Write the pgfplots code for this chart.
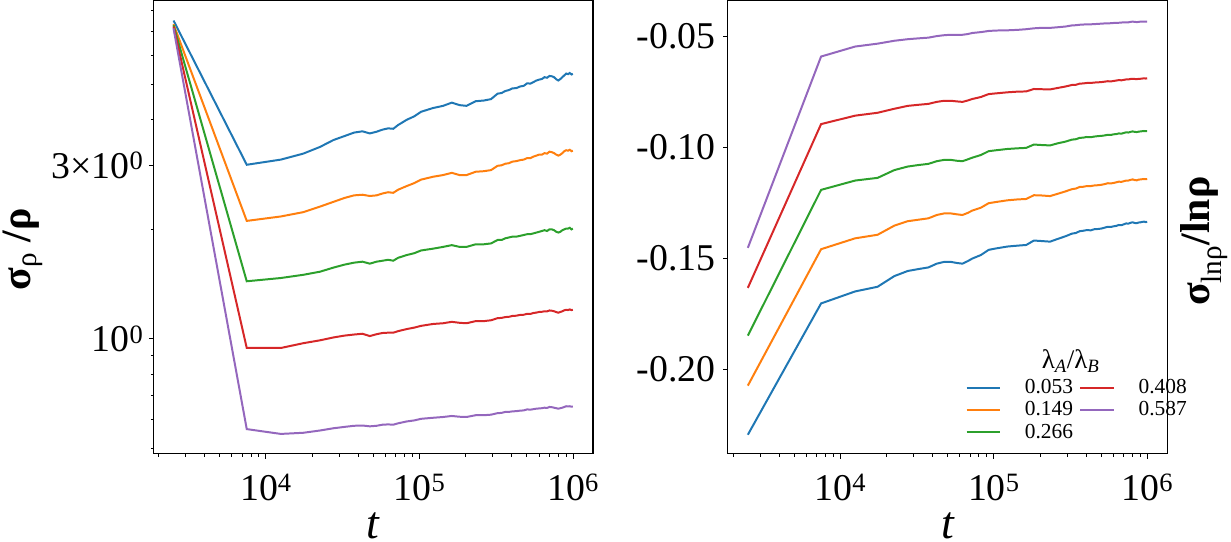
\documentclass[border=0pt]{standalone}
\usepackage{fontspec}
\setmainfont{Liberation Serif}
\usepackage{pgfplots}
\usepackage{pgfplotstable}
\pgfplotsset{compat=1.18}

\definecolor{tabblue}{HTML}{1F77B4}
\definecolor{taborange}{HTML}{FF7F0E}
\definecolor{tabgreen}{HTML}{2CA02C}
\definecolor{tabred}{HTML}{D62728}
\definecolor{tabpurple}{HTML}{9467BD}

% sigma_rho / rho (left panel)
\pgfplotstableread{
t b o g r p
2500 7.50 7.33 7.28 7.22 7.14
7500 3.01 2.11 1.44 0.944 0.565
12500 3.11 2.17 1.47 0.944 0.548
17500 3.23 2.23 1.50 0.973 0.552
22500 3.37 2.31 1.53 0.991 0.560
27500 3.52 2.38 1.57 1.009 0.568
32500 3.61 2.44 1.60 1.021 0.573
37500 3.69 2.48 1.62 1.028 0.577
42500 3.72 2.49 1.63 1.033 0.578
47500 3.67 2.47 1.61 1.018 0.575
52500 3.71 2.48 1.63 1.030 0.577
57500 3.76 2.51 1.64 1.038 0.581
62500 3.79 2.53 1.65 1.040 0.582
67500 3.78 2.52 1.64 1.040 0.581
72500 3.87 2.57 1.67 1.050 0.586
82500 4.00 2.63 1.70 1.064 0.593
92500 4.09 2.68 1.72 1.074 0.597
102500 4.21 2.74 1.75 1.086 0.603
122500 4.31 2.79 1.77 1.099 0.607
142500 4.37 2.82 1.79 1.104 0.610
162500 4.46 2.86 1.81 1.114 0.614
182500 4.39 2.82 1.79 1.107 0.611
202500 4.37 2.82 1.79 1.104 0.610
232500 4.50 2.88 1.82 1.119 0.617
262500 4.52 2.89 1.82 1.119 0.617
292500 4.56 2.91 1.83 1.125 0.619
322500 4.72 2.99 1.87 1.140 0.625
342500 4.74 3.00 1.87 1.142 0.626
362500 4.80 3.03 1.89 1.148 0.630
382500 4.83 3.04 1.90 1.150 0.630
402500 4.88 3.07 1.91 1.156 0.632
427500 4.89 3.08 1.91 1.158 0.633
452500 4.94 3.10 1.92 1.164 0.635
477500 4.96 3.11 1.93 1.165 0.636
502500 5.04 3.14 1.94 1.172 0.640
527500 5.03 3.14 1.94 1.171 0.639
552500 5.08 3.17 1.95 1.178 0.641
577500 5.13 3.19 1.96 1.181 0.643
602500 5.16 3.21 1.97 1.186 0.644
627500 5.18 3.21 1.98 1.187 0.645
652500 5.24 3.24 1.99 1.191 0.647
677500 5.22 3.23 1.98 1.190 0.646
702500 5.28 3.27 2.00 1.197 0.650
727500 5.27 3.26 2.00 1.195 0.649
752500 5.24 3.24 1.99 1.191 0.647
777500 5.17 3.21 1.97 1.185 0.645
802500 5.13 3.19 1.96 1.180 0.643
827500 5.18 3.21 1.97 1.186 0.645
852500 5.24 3.24 1.99 1.191 0.647
877500 5.30 3.28 2.00 1.198 0.650
902500 5.36 3.30 2.01 1.202 0.653
927500 5.34 3.29 2.01 1.200 0.652
952500 5.38 3.31 2.02 1.205 0.653
977500 5.33 3.28 2.00 1.200 0.651
997500 5.35 3.29 2.01 1.202 0.652
}\leftdata

% sigma_lnrho / lnrho (right panel)
\pgfplotstableread{
t b o g r p
2500 -0.2294 -0.2073 -0.1848 -0.1633 -0.1453
7500 -0.1703 -0.1459 -0.1192 -0.0896 -0.0592
12500 -0.1649 -0.1410 -0.1150 -0.0858 -0.0547
17500 -0.1628 -0.1394 -0.1138 -0.0845 -0.0534
22500 -0.1580 -0.1353 -0.1103 -0.0827 -0.0521
27500 -0.1557 -0.1333 -0.1087 -0.0814 -0.0514
32500 -0.1548 -0.1326 -0.1080 -0.0809 -0.0510
37500 -0.1541 -0.1320 -0.1075 -0.0805 -0.0507
42500 -0.1524 -0.1305 -0.1063 -0.0796 -0.0500
47500 -0.1516 -0.1298 -0.1057 -0.0791 -0.0496
52500 -0.1516 -0.1298 -0.1057 -0.0791 -0.0494
57500 -0.1521 -0.1302 -0.1061 -0.0794 -0.0494
62500 -0.1524 -0.1305 -0.1063 -0.0796 -0.0494
67500 -0.1513 -0.1296 -0.1055 -0.0790 -0.0491
72500 -0.1501 -0.1285 -0.1047 -0.0783 -0.0486
82500 -0.1485 -0.1272 -0.1035 -0.0774 -0.0482
92500 -0.1462 -0.1252 -0.1018 -0.0761 -0.0477
102500 -0.1456 -0.1247 -0.1014 -0.0758 -0.0475
122500 -0.1447 -0.1239 -0.1008 -0.0753 -0.0474
142500 -0.1443 -0.1235 -0.1005 -0.0750 -0.0472
162500 -0.1440 -0.1233 -0.1003 -0.0749 -0.0469
182500 -0.1420 -0.1216 -0.0988 -0.0738 -0.0465
202500 -0.1422 -0.1217 -0.0990 -0.0739 -0.0463
232500 -0.1425 -0.1220 -0.0992 -0.0740 -0.0463
262500 -0.1412 -0.1209 -0.0982 -0.0733 -0.0460
292500 -0.1401 -0.1199 -0.0975 -0.0727 -0.0457
322500 -0.1389 -0.1189 -0.0966 -0.0720 -0.0452
342500 -0.1386 -0.1186 -0.0964 -0.0719 -0.0451
362500 -0.1378 -0.1179 -0.0958 -0.0714 -0.0449
382500 -0.1376 -0.1178 -0.0957 -0.0713 -0.0448
402500 -0.1373 -0.1175 -0.0954 -0.0711 -0.0447
427500 -0.1374 -0.1175 -0.0955 -0.0711 -0.0447
452500 -0.1369 -0.1172 -0.0952 -0.0709 -0.0446
477500 -0.1368 -0.1171 -0.0950 -0.0708 -0.0445
502500 -0.1366 -0.1169 -0.0949 -0.0707 -0.0444
527500 -0.1362 -0.1166 -0.0947 -0.0705 -0.0443
552500 -0.1358 -0.1162 -0.0944 -0.0703 -0.0443
577500 -0.1359 -0.1163 -0.0945 -0.0704 -0.0442
602500 -0.1356 -0.1161 -0.0942 -0.0702 -0.0441
627500 -0.1354 -0.1158 -0.0941 -0.0700 -0.0441
652500 -0.1350 -0.1155 -0.0938 -0.0698 -0.0440
677500 -0.1351 -0.1156 -0.0939 -0.0699 -0.0439
702500 -0.1347 -0.1153 -0.0936 -0.0697 -0.0438
727500 -0.1343 -0.1150 -0.0933 -0.0695 -0.0438
752500 -0.1344 -0.1150 -0.0934 -0.0695 -0.0438
777500 -0.1340 -0.1147 -0.0931 -0.0693 -0.0436
802500 -0.1338 -0.1145 -0.0929 -0.0692 -0.0435
827500 -0.1341 -0.1148 -0.0931 -0.0693 -0.0436
852500 -0.1342 -0.1149 -0.0932 -0.0694 -0.0437
877500 -0.1339 -0.1146 -0.0930 -0.0692 -0.0436
902500 -0.1338 -0.1145 -0.0929 -0.0692 -0.0435
927500 -0.1336 -0.1144 -0.0928 -0.0691 -0.0435
952500 -0.1335 -0.1143 -0.0927 -0.0690 -0.0435
977500 -0.1337 -0.1144 -0.0928 -0.0691 -0.0435
997500 -0.1336 -0.1143 -0.0928 -0.0690 -0.0435
}\rightdata

\pgfplotsset{
  panel/.style={
    scale only axis, width=441.6pt, height=455.6pt,
    anchor=south west,
    xmin=1854, xmax=1.349e6,
    xtick={1e4,1e5,1e6},
    xticklabels={10\textsuperscript{4},10\textsuperscript{5},10\textsuperscript{6}},
    minor xtick={2000,3000,4000,5000,6000,7000,8000,9000,
      20000,30000,40000,50000,60000,70000,80000,90000,
      200000,300000,400000,500000,600000,700000,800000,900000},
    xtick pos=bottom, ytick pos=left,
    tick align=outside,
    major tick length=4.7pt, minor tick length=2.7pt,
    every tick/.style={black, line width=0.9pt},
    axis line style={line width=1.1pt},
    ticklabel style={font=\fontsize{38}{40}\selectfont, inner sep=0pt},
    xticklabel style={anchor=base, yshift=-42pt},
    clip=false,
  },
  cl/.style={#1, line width=2pt},
}

\begin{document}
\begin{tikzpicture}
% left panel
\begin{axis}[xmode=log, ymode=log, panel, at={(0pt,0pt)},
  ymin=0.483, ymax=8.51,
  ytick={1,3},
  yticklabels={10\textsuperscript{0},3×10\textsuperscript{0}},
  minor ytick={0.5,0.6,0.7,0.8,0.9,2,4,5,6,7,8},
  yticklabel style={anchor=east, xshift=-5.4pt},
]
\addplot[cl=tabblue] table[x=t,y=b]{\leftdata};
\addplot[cl=taborange] table[x=t,y=o]{\leftdata};
\addplot[cl=tabgreen] table[x=t,y=g]{\leftdata};
\addplot[cl=tabred] table[x=t,y=r]{\leftdata};
\addplot[cl=tabpurple] table[x=t,y=p]{\leftdata};
\node[font=\fontsize{46}{48}\selectfont\itshape, anchor=base] at (rel axis cs:0.5,-0.186) {t};
\node[rotate=90, font=\fontsize{42}{44}\selectfont] at (rel axis cs:-0.2976,0.451)
  {\textbf{σ}\textsubscript{ρ} \textbf{/ρ}};
\end{axis}

% right panel
\begin{axis}[xmode=log, panel, at={(577.2pt,0pt)},
  ymin=-0.238, ymax=-0.034,
  ytick={-0.20,-0.15,-0.10,-0.05},
  yticklabels={-0.20,-0.15,-0.10,-0.05},
  minor ytick={},
  yticklabel style={anchor=east, xshift=-7.6pt},
  legend columns=2,
  legend cell align=left,
  legend style={draw=none, fill=none, at={(rel axis cs:1.055,0.018)}, anchor=south east,
    font=\fontsize{21.5}{23}\selectfont,
    nodes={inner sep=1.5pt, text height=15.5pt, text depth=4pt},
    /tikz/every even column/.append style={column sep=5pt},
    /tikz/every odd column/.append style={column sep=22pt}},
  legend image code/.code={\draw[#1, line width=2pt] (0pt,0pt) -- (34pt,0pt);},
]
\addplot[cl=tabblue] table[x=t,y=b]{\rightdata};
\addlegendentry{0.053}
\addplot[cl=tabred] table[x=t,y=r]{\rightdata};
\addlegendentry{0.408}
\addplot[cl=taborange] table[x=t,y=o]{\rightdata};
\addlegendentry{0.149}
\addplot[cl=tabpurple] table[x=t,y=p]{\rightdata};
\addlegendentry{0.587}
\addplot[cl=tabgreen] table[x=t,y=g]{\rightdata};
\addlegendentry{0.266}
\node[font=\fontsize{27}{29}\selectfont] at (rel axis cs:0.78,0.205)
  {λ\textsubscript{\textit{A}}/λ\textsubscript{\textit{B}}};
\node[font=\fontsize{46}{48}\selectfont\itshape, anchor=base] at (rel axis cs:0.5,-0.186) {t};
\node[rotate=90, font=\fontsize{42}{44}\selectfont] at (rel axis cs:1.084,0.469)
  {\textbf{σ}\textsubscript{lnρ}\textbf{/lnρ}};
\end{axis}
\end{tikzpicture}
\end{document}
